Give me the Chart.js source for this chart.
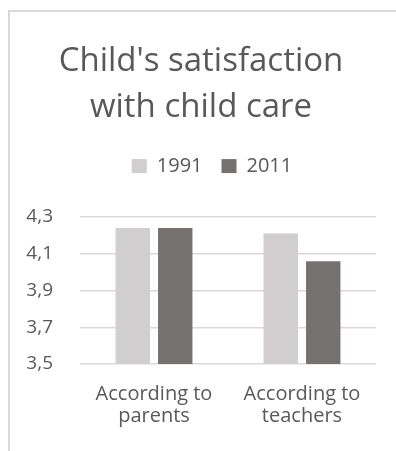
<!DOCTYPE html>
<html>
<head>
<meta charset="utf-8">
<script src="https://cdn.jsdelivr.net/npm/chart.js@4/dist/chart.umd.min.js"></script>
<style>
  html, body { margin: 0; padding: 0; background: #fff; }
  #frame {
    position: absolute; left: 8px; top: 10px; width: 388px; height: 441px;
    border-left: 2px solid #d9d9d9; border-top: 2px solid #d9d9d9;
    box-sizing: border-box;
  }
  #box { position: absolute; left: 10px; top: 12px; width: 386px; height: 439px; }
</style>
</head>
<body>
<div id="frame"></div>
<div id="box"><canvas id="chart"></canvas></div>
<script>
// Chart data
const categories = [['According to', 'parents'], ['According to', 'teachers']];
const seriesNames = ['1991', '2011'];
const values1991 = [4.24, 4.21];
const values2011 = [4.24, 4.06];
const yTicks = [3.5, 3.7, 3.9, 4.1, 4.3];

const textColor = '#595959';

// extra room under the legend, and nudge it a bit to the right
const legendTweak = {
  id: 'legendTweak',
  beforeLayout(chart) {
    const lg = chart.legend;
    if (lg && !lg._patched) {
      const fit = lg.fit;
      lg.fit = function () { fit.call(this); this.height += 31; };
      lg._patched = true;
    }
  },
  afterLayout(chart) {
    const lg = chart.legend;
    if (lg) { lg.left += 11; lg.right += 11; }
  }
};

const ctx = document.getElementById('chart').getContext('2d');
new Chart(ctx, {
  type: 'bar',
  data: {
    labels: categories,
    datasets: [
      { label: seriesNames[0], data: values1991, backgroundColor: '#d0cece' },
      { label: seriesNames[1], data: values2011, backgroundColor: '#767171' }
    ]
  },
  options: {
    responsive: true,
    maintainAspectRatio: false,
    animation: false,
    layout: { padding: { left: 16, right: 20, top: 0, bottom: 5 } },
    datasets: { bar: { categoryPercentage: 0.574, barPercentage: 0.81 } },
    plugins: {
      title: {
        display: true,
        text: ["Child's satisfaction", 'with child care'],
        color: textColor,
        font: { family: 'Open Sans', size: 33, weight: 'normal', lineHeight: 1.38 },
        padding: { top: 27, bottom: 7 }
      },
      legend: {
        display: true,
        labels: {
          color: textColor,
          font: { family: 'Open Sans', size: 20 },
          boxWidth: 15,
          boxHeight: 14,
          padding: 19
        }
      },
      tooltip: { enabled: false }
    },
    scales: {
      x: {
        grid: { display: false, drawTicks: false },
        border: { display: false },
        ticks: {
          color: textColor,
          font: { family: 'Open Sans', size: 20, lineHeight: 1.1 },
          padding: 19,
          maxRotation: 0
        },
        afterFit(scale) {
          scale.paddingLeft = 0;
          scale.paddingRight = 0;
        }
      },
      y: {
        min: yTicks[0],
        max: yTicks[yTicks.length - 1],
        grid: { color: '#d9d9d9', lineWidth: 1.5, drawTicks: false },
        border: { display: false },
        ticks: {
          stepSize: 0.2,
          color: textColor,
          font: { family: 'Open Sans', size: 19 },
          padding: 27,
          callback: v => v.toFixed(1).replace('.', ',')
        },
        afterFit(scale) {
          scale.width = 54;
        }
      }
    }
  },
  plugins: [legendTweak]
});
</script>
</body>
</html>
